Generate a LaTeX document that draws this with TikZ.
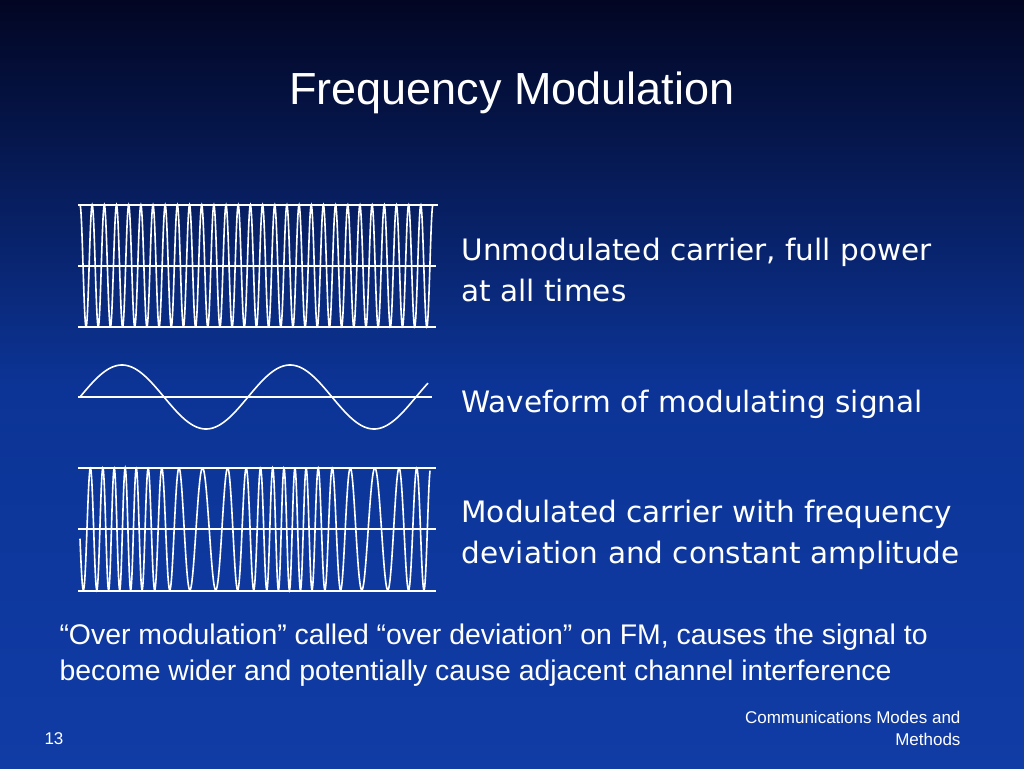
\documentclass[tikz,border=0pt]{standalone}
\usepackage{fontspec}
\setmainfont{Liberation Sans}
\newfontfamily\bodyfont{DejaVu Sans}
\tikzset{
  wave/.style={white, line width=1.6pt},
  axis/.style={white, line width=1.8pt},
  body/.style={white, anchor=west, align=left, font=\bodyfont\fontsize{29.5}{41}\selectfont},
}
\begin{document}
\begin{tikzpicture}[x=1pt,y=-1pt]
    % background
    \shade[top color={rgb,255:red,2;green,6;blue,35}, bottom color={rgb,255:red,16;green,60;blue,165}, middle color={rgb,255:red,12;green,52;blue,150}] (0,0) rectangle (1024,768);
    \useasboundingbox (0,0) rectangle (1024,768);

    % title
    \node[white, font=\fontsize{45}{54}\selectfont] (title) at (512,93) {Frequency Modulation};

    % unmodulated carrier
    \draw[axis] (78,205) -- (438,205) (78,266) -- (436,266) (78,327) -- (436,327);
    \draw[wave] plot[domain=80:433, samples=900, smooth] (\x, {266-61*sin((\x-80)/12.17*360+90)});

    % modulating signal
    \draw[axis] (78,397) -- (432,397);
    \draw[wave] plot[domain=80:428, samples=300, smooth] (\x, {397-32*sin((\x-80)/168*360)});

    % modulated carrier
    \draw[axis] (78,468) -- (436,468) (78,529) -- (436,529) (78,591) -- (436,591);
    \draw[wave] plot[domain=80:430, samples=1000, smooth]
      (\x, {529-61*cos(360*((\x-80)/15.5 - 0.42*168/(2*pi*15.5)*cos((\x-80)/168*360)))});

    % captions
    \node[body] (cap1) at (458,270) {Unmodulated carrier, full power\\at all times};
    \node[body] (cap2) at (458,404) {Waveform of modulating signal};
    \node[body] (cap3) at (458,535) {Modulated carrier with frequency\\deviation and constant amplitude};

    % notes
    \node[white, anchor=west, align=left, font=\fontsize{28.4}{36}\selectfont] (note) at (56,655)
      {“Over modulation” called “over deviation” on FM, causes the signal to\\become wider and potentially cause adjacent channel interference};
    \node[white, font=\fontsize{17}{22}\selectfont] (num) at (54,739) {13};
    \node[white, anchor=east, align=right, font=\fontsize{17}{22}\selectfont] (foot) at (964,728) {Communications Modes and\\Methods};
\end{tikzpicture}
\end{document}
